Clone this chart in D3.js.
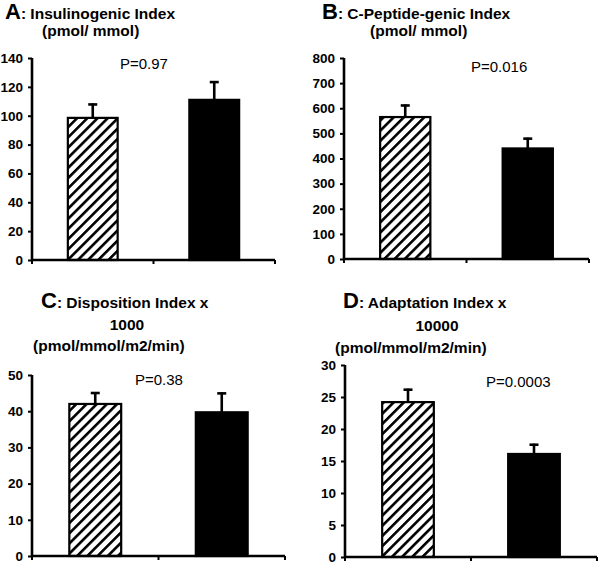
<!DOCTYPE html>
<html><head><meta charset="utf-8">
<script src="https://cdn.jsdelivr.net/npm/d3@7"></script>
<style>body{margin:0;background:#fff}svg{display:block}text{font-family:"Liberation Sans",Arial,sans-serif}</style>
</head><body><div id="c"></div>
<script>
// ---- data ----
const groups = ["Group 1", "Group 2"];
const panelLetters = ["A", "B", "C", "D"];
const panelTitles = [": Insulinogenic Index", ": C-Peptide-genic Index", ": Disposition Index x", ": Adaptation Index x"];
const panelScaleLines = ["", "", "1000", "10000"];
const panelUnits = ["(pmol/ mmol)", "(pmol/ mmol)", "(pmol/mmol/m2/min)", "(pmol/mmol/m2/min)"];
const pValues = ["P=0.97", "P=0.016", "P=0.38", "P=0.0003"];
const insulinogenicMeans = [98.5, 111];
const insulinogenicSE = [10, 13];
const cpeptideMeans = [565, 440];
const cpeptideSE = [50, 43];
const dispositionMeans = [42, 39.7];
const dispositionSE = [3.3, 5.5];
const adaptationMeans = [24.2, 16.1];
const adaptationSE = [2.1, 1.6];
const ticksA = [0, 20, 40, 60, 80, 100, 120, 140];
const ticksB = [0, 100, 200, 300, 400, 500, 600, 700, 800];
const ticksC = [0, 10, 20, 30, 40, 50];
const ticksD = [0, 5, 10, 15, 20, 25, 30];

const panelMeans = [insulinogenicMeans, cpeptideMeans, dispositionMeans, adaptationMeans];
const panelSE = [insulinogenicSE, cpeptideSE, dispositionSE, adaptationSE];
const panelTicks = [ticksA, ticksB, ticksC, ticksD];

// ---- layout ----
const layout = [
  {ax: 32, y0: 260, yTop: 58, xEnd: 275, letter: [5, 18.5], unit: [42, 36], scl: null, p: [120, 69]},
  {ax: 344, y0: 259, yTop: 58, xEnd: 589, letter: [322, 18.5], unit: [370, 36], scl: null, p: [471, 72]},
  {ax: 32, y0: 556, yTop: 375, xEnd: 285, letter: [41, 308], unit: [33, 351], scl: [127, 330], p: [135, 385]},
  {ax: 345, y0: 557, yTop: 365, xEnd: 597, letter: [343, 308], unit: [335, 353], scl: [437, 331], p: [486, 387]}
];

const svg = d3.select("#c").append("svg").attr("width", 600).attr("height", 565);
const defs = svg.append("defs");
defs.append("pattern").attr("id", "hatch").attr("patternUnits", "userSpaceOnUse")
  .attr("width", 7.2).attr("height", 7.2).attr("patternTransform", "rotate(45)")
  .append("rect").attr("x", 0).attr("y", 0).attr("width", 2.6).attr("height", 7.2).attr("fill", "#000");

panelLetters.forEach((L, i) => {
  const lay = layout[i];
  const g = svg.append("g");
  const ticks = panelTicks[i];
  const y = d3.scaleLinear().domain([0, d3.max(ticks)]).range([lay.y0, lay.yTop]);
  const x = d3.scalePoint().domain(groups).range([lay.ax, lay.xEnd]).padding(0.5);
  const step = x.step();
  const bw = step * 0.41;

  // title
  const t = g.append("text").attr("x", lay.letter[0]).attr("y", lay.letter[1]).attr("font-weight", "bold");
  t.append("tspan").attr("font-size", 22).text(L);
  t.append("tspan").attr("font-size", 15.5).text(panelTitles[i]);
  if (lay.scl) g.append("text").attr("x", lay.scl[0]).attr("y", lay.scl[1]).attr("text-anchor", "middle")
    .attr("font-weight", "bold").attr("font-size", 15.5).text(panelScaleLines[i]);
  g.append("text").attr("x", lay.unit[0]).attr("y", lay.unit[1]).attr("font-weight", "bold")
    .attr("font-size", 15.5).text(panelUnits[i]);

  // bars
  const means = panelMeans[i], se = panelSE[i];
  groups.forEach((gr, j) => {
    const cx = x(gr);
    const top = y(means[j]);
    const et = y(means[j] + se[j]);
    g.append("line").attr("x1", cx).attr("x2", cx).attr("y1", top).attr("y2", et)
      .attr("stroke", "#000").attr("stroke-width", 2.6);
    g.append("line").attr("x1", cx - 4.5).attr("x2", cx + 4.5).attr("y1", et + 1).attr("y2", et + 1)
      .attr("stroke", "#000").attr("stroke-width", 2.6);
    g.append("rect").attr("x", cx - bw / 2).attr("y", top).attr("width", bw).attr("height", lay.y0 - top)
      .attr("fill", j === 0 ? "url(#hatch)" : "#000").attr("stroke", "#000").attr("stroke-width", 2.2);
  });

  // y axis
  const yAxis = d3.axisLeft(y).tickValues(ticks).tickSize(4).tickPadding(5).tickFormat(d3.format("d"));
  const ya = g.append("g").attr("transform", `translate(${lay.ax},0)`).call(yAxis);
  ya.select(".domain").attr("stroke-width", 2.6).attr("d", `M0,${lay.y0}V${lay.yTop}`);
  ya.selectAll(".tick line").attr("stroke-width", 2);
  ya.selectAll(".tick text").attr("font-size", 13.5).attr("font-weight", "bold")
    .attr("font-family", "'Liberation Sans',Arial,sans-serif").attr("fill", "#000");

  // x axis
  const xa = g.append("g");
  xa.append("line").attr("x1", lay.ax).attr("x2", lay.xEnd).attr("y1", lay.y0).attr("y2", lay.y0)
    .attr("stroke", "#000").attr("stroke-width", 2.6);
  [lay.ax, (lay.ax + lay.xEnd) / 2, lay.xEnd].forEach(tx => {
    xa.append("line").attr("x1", tx).attr("x2", tx).attr("y1", lay.y0).attr("y2", lay.y0 + 4)
      .attr("stroke", "#000").attr("stroke-width", 2);
  });

  // p value
  g.append("text").attr("x", lay.p[0]).attr("y", lay.p[1]).attr("font-size", 15).text(pValues[i]);
});
</script></body></html>
